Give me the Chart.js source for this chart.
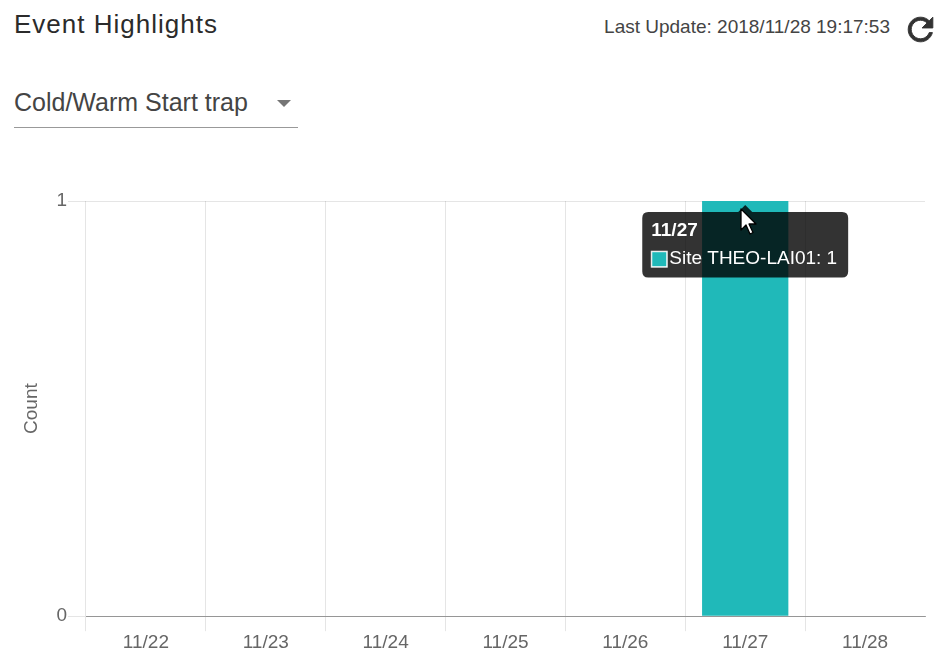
<!DOCTYPE html>
<html>
<head>
<meta charset="utf-8">
<script src="https://cdn.jsdelivr.net/npm/chart.js@4/dist/chart.umd.min.js"></script>
<style>
  html, body { margin: 0; padding: 0; background: #fff; }
  body { width: 935px; height: 651px; position: relative; overflow: hidden; font-family: "Liberation Sans", Arial, sans-serif; color: #333; }
  #title { position: absolute; left: 14px; top: 11px; font-size: 26px; line-height: 26px; letter-spacing: 1px; color: #2b2b2b; white-space: nowrap; }
  #updated { position: absolute; right: 45px; top: 17px; font-size: 19px; line-height: 19px; color: #444; white-space: nowrap; }
  #refresh { position: absolute; left: 902px; top: 11px; width: 37px; height: 37px; }
  #select { position: absolute; left: 14px; top: 86px; width: 284px; height: 41px; border-bottom: 1px solid #999; }
  #select span { position: absolute; left: 0; top: 4px; font-size: 25px; line-height: 25px; color: #444; white-space: nowrap; }
  #select .arrow { position: absolute; left: 263px; top: 14px; width: 0; height: 0; border-left: 7px solid transparent; border-right: 7px solid transparent; border-top: 7px solid #757575; }
  #wrap { position: absolute; left: 0; top: 165px; width: 935px; height: 489px; }
  #pointer { position: absolute; left: 740px; top: 208px; width: 20px; height: 30px; }
</style>
</head>
<body>
<div id="title">Event Highlights</div>
<div id="updated">Last Update: 2018/11/28 19:17:53</div>
<svg id="refresh" viewBox="0 0 24 24"><path fill="#333" stroke="#333" stroke-width="0.6" d="M17.65 6.35C16.2 4.9 14.21 4 12 4c-4.42 0-7.99 3.58-7.99 8s3.57 8 7.99 8c3.73 0 6.84-2.55 7.73-6h-2.08c-.82 2.33-3.04 4-5.65 4-3.31 0-6-2.69-6-6s2.69-6 6-6c1.66 0 3.14.69 4.22 1.78L13 11h7V4l-2.35 2.35z"/></svg>
<div id="select"><span>Cold/Warm Start trap</span><div class="arrow"></div></div>
<div id="wrap"><canvas id="chart"></canvas></div>
<svg id="pointer" viewBox="0 0 20 30"><path d="M1 1 L1 22 L6 17 L10 26 L13 24.5 L9 16 L16 16 Z" fill="#fff" stroke="#000" stroke-width="1.3" stroke-linejoin="round"/></svg>
<script>
const days = ["11/22", "11/23", "11/24", "11/25", "11/26", "11/27", "11/28"];
const siteName = "Site THEO-LAI01";
const siteCounts = [0, 0, 0, 0, 0, 1, 0];
const countTicks = [0, 1];
const barColor = "#20b9b9";
const labelFont = { family: "Liberation Sans", size: 19 };

const ctx = document.getElementById("chart").getContext("2d");
const chart = new Chart(ctx, {
  type: "bar",
  data: {
    labels: days,
    datasets: [{
      label: siteName,
      data: siteCounts,
      backgroundColor: barColor,
      hoverBackgroundColor: barColor,
      borderWidth: 0,
    }],
  },
  options: {
    responsive: true,
    maintainAspectRatio: false,
    animation: false,
    events: [],
    layout: { padding: { left: 20, right: 10, top: 36, bottom: 0 } },
    plugins: {
      legend: { display: false },
      tooltip: {
        xAlign: "center",
        yAlign: "top",
        backgroundColor: "rgba(0,0,0,0.8)",
        titleFont: { family: "Liberation Sans", size: 19, weight: "bold" },
        bodyFont: labelFont,
        titleColor: "#fff",
        bodyColor: "#fff",
        padding: { left: 9, right: 11, top: 7, bottom: 7 },
        titleMarginBottom: 6,
        caretSize: 7,
        caretPadding: 4,
        cornerRadius: 6,
        boxWidth: 16,
        boxHeight: 16,
        boxPadding: 0,
        multiKeyBackground: "#fff",
        callbacks: {
          labelColor: () => ({ borderColor: "rgba(255,255,255,0.8)", backgroundColor: barColor, borderWidth: 1 }),
        },
      },
    },
    scales: {
      x: {
        offset: true,
        grid: {
          offset: true,
          color: (c) => (c.type === "tick" ? "rgba(0,0,0,0.1)" : "transparent"),
          tickLength: 15,
        },
        border: { display: true, color: "rgba(0,0,0,0.35)" },
        ticks: { color: "#666", padding: 0, font: labelFont },
      },
      y: {
        min: 0,
        max: 1,
        afterFit: (scale) => { scale.width = 66; },
        afterBuildTicks: (scale) => { scale.ticks = countTicks.map((v) => ({ value: v })); },
        grid: { color: "rgba(0,0,0,0.1)", tickLength: 18 },
        border: { display: false },
        title: { display: true, text: "Count", color: "#666", padding: 0, font: labelFont },
        ticks: { color: "#666", padding: 1, font: labelFont },
      },
    },
  },
});

// keep the hover tooltip open on the 11/27 bar
const active = [{ datasetIndex: 0, index: days.indexOf("11/27") }];
const bar = chart.getDatasetMeta(0).data[active[0].index];
chart.setActiveElements(active);
chart.tooltip.setActiveElements(active, { x: bar.x, y: bar.y });
chart.update();
</script>
</body>
</html>
